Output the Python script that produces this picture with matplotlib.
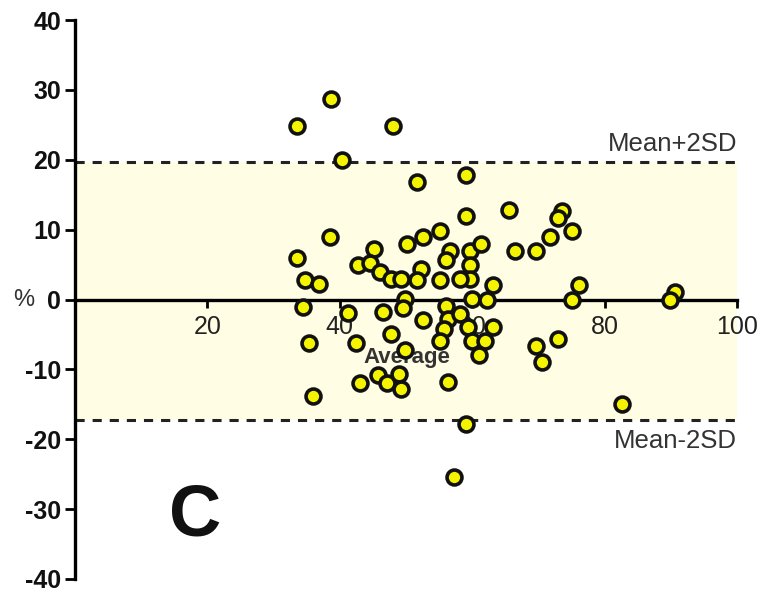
import matplotlib
matplotlib.use("Agg")
import matplotlib.pyplot as plt

# Bland-Altman style data: average (x) vs % difference (y)
avg = [33.5, 38.6, 48.1, 40.3, 51.6, 59.1, 59.1, 65.6, 38.5, 33.5,
       45.1, 42.7, 44.5, 34.7, 36.8, 46.0, 47.7, 49.2, 50.2, 52.6,
       55.1, 56.6, 56.0, 59.6, 61.3, 66.5, 52.3, 51.6, 55.2, 59.6,
       59.7, 58.2, 63.2, 49.9, 60.0, 62.2, 34.5, 41.2, 46.5, 47.7,
       35.4, 42.4, 43.1, 45.7, 47.2, 48.9, 49.2, 36.0, 49.5, 49.9,
       52.5, 56.1, 56.3, 55.7, 58.2, 59.3, 60.0, 55.2, 62.0, 63.2,
       61.1, 56.3, 59.1, 57.3, 73.6, 72.9, 75.1, 71.7, 69.6, 76.2,
       75.1, 73.0, 69.7, 70.6, 90.7, 89.9, 82.7]
pct_diff = [24.9, 28.7, 24.9, 19.9, 16.8, 17.8, 12.0, 12.8, 8.9, 5.9,
            7.2, 4.9, 5.2, 2.8, 2.2, 3.9, 3.0, 3.0, 8.0, 9.0,
            9.8, 7.0, 5.7, 7.0, 7.9, 6.9, 4.3, 2.8, 2.8, 4.9,
            3.0, 3.0, 2.1, 0.1, 0.1, -0.1, -1.1, -1.9, -1.8, -4.9,
            -6.2, -6.2, -12.0, -10.8, -12.0, -10.6, -12.8, -13.8, -1.2, -7.2,
            -3.0, -0.9, -2.8, -4.2, -2.1, -3.9, -6.0, -6.0, -6.0, -3.9,
            -8.0, -11.8, -17.8, -25.4, 12.7, 11.7, 9.8, 8.9, 6.9, 2.1,
            -0.1, -5.6, -6.7, -8.9, 1.1, -0.1, -14.9]

upper_limit = 19.7
lower_limit = -17.3
x_ticks = [20, 40, 60, 80, 100]
y_ticks = [40, 30, 20, 10, 0, -10, -20, -30, -40]

plt.rcParams['font.family'] = ['Liberation Sans', 'DejaVu Sans']

fig = plt.figure(figsize=(7.6, 5.93), dpi=100)
W, H = 760, 593
ax = fig.add_axes([75 / W, (H - 579) / H, (737 - 75) / W, (579 - 20) / H])
ax.set_xlim(0, 100)
ax.set_ylim(-40, 40)

# limits of agreement band
ax.axhspan(lower_limit, upper_limit, xmin=0, xmax=1, color='#fffde3', zorder=0, lw=0)
ax.axhline(upper_limit, color='#222222', lw=2.2, ls=(0, (3, 2.6)), zorder=1)
ax.axhline(lower_limit, color='#222222', lw=2.2, ls=(0, (3, 2.6)), zorder=1)

# spines
for s in ['top', 'right']:
    ax.spines[s].set_visible(False)
ax.spines['left'].set_linewidth(2.4)
ax.spines['bottom'].set_position(('data', 0))
ax.spines['bottom'].set_linewidth(2.4)

ax.set_xticks(x_ticks)
ax.set_xticklabels([str(t) for t in x_ticks], fontsize=18, color='#222222')
ax.set_yticks(y_ticks)
ax.set_yticklabels([str(t) for t in y_ticks], fontsize=18, fontweight='bold', color='#111111')
ax.tick_params(axis='x', direction='out', length=6, width=2, pad=5)
ax.tick_params(axis='y', direction='out', length=7, width=2, pad=3)

ax.scatter(avg, pct_diff, s=115, facecolor='#f4f400', edgecolor='#111111',
           linewidths=2.6, zorder=5, clip_on=False)

ax.text(50.1, -8.3, 'Average', fontsize=16, fontweight='bold', color='#333333',
        ha='center', va='center', zorder=4)
ax.text(-7.8, 0, '%', fontsize=17, color='#333333', ha='center', va='center',
        clip_on=False)
ax.text(100, 22.2, 'Mean+2SD', fontsize=18.5, color='#333333', ha='right', va='center')
ax.text(100, -20.3, 'Mean-2SD', fontsize=18.5, color='#333333', ha='right', va='center')
ax.text(18.2, -31.0, 'C', fontsize=52, fontweight='bold', color='#111111',
        ha='center', va='center')

fig.savefig('out.png', dpi=100)
